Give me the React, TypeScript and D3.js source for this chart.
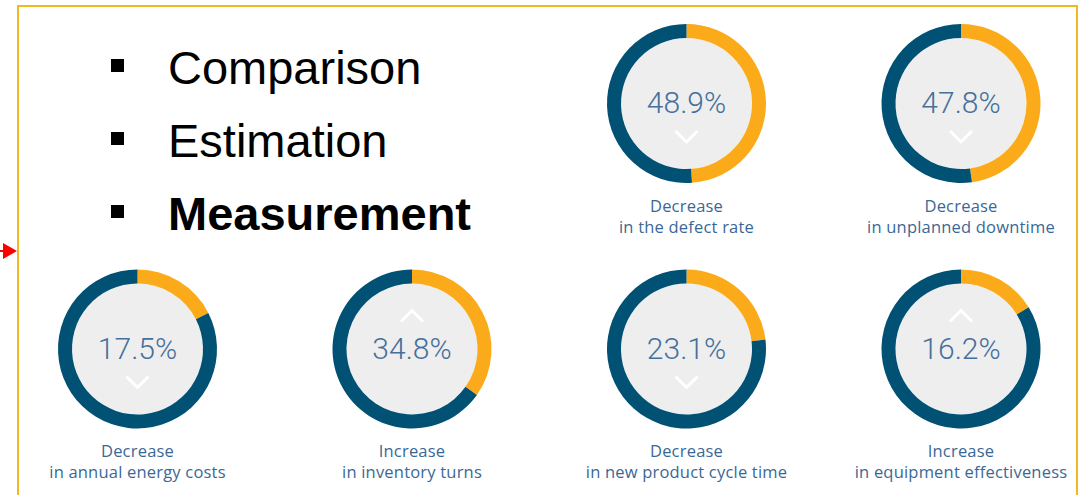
import React from "react";
import * as d3 from "d3";

const bullets = ["Comparison", "Estimation", "Measurement"];
const bulletBold = [false, false, true];

const values = [48.9, 47.8, 17.5, 34.8, 23.1, 16.2];
const directions = ["Decrease", "Decrease", "Decrease", "Increase", "Decrease", "Increase"];
const subtitles = [
  "in the defect rate",
  "in unplanned downtime",
  "in annual energy costs",
  "in inventory turns",
  "in new product cycle time",
  "in equipment effectiveness",
];
const gridCol = [2, 3, 0, 1, 2, 3];
const gridRow = [0, 0, 1, 1, 1, 1];

const W = 1084;
const H = 495;
const BLUE = "#005174";
const YELLOW = "#FBAB1A";
const INNER = "#EEEEEE";
const TEXT = "#3A6895";
const BORDER = "#F0B823";

const R = 79.5;
const THICK = 14;

export default function App() {
  const x = d3.scaleLinear().domain([0, 3]).range([137.5, 961]);
  const y = d3.scaleLinear().domain([0, 1]).range([103.5, 349]);
  const arc = d3.arc<any>().innerRadius(R - THICK).outerRadius(R);
  const pie = d3.pie<number>().sort(null).value((d) => d);
  const bulletY = d3.scaleLinear().domain([0, 2]).range([84, 230]);

  return (
    <svg
      width={W}
      height={H}
      style={{ position: "absolute", left: 0, top: 0, background: "#fff" }}
      fontFamily="Roboto, 'Liberation Sans', sans-serif"
    >
      <rect x={0} y={0} width={W} height={H} fill="#fff" />
      {/* frame */}
      <path d={`M18,${H + 2} L18,6 L1077,6 L1077,${H + 2}`} fill="none" stroke={BORDER} strokeWidth={2} />
      {/* red arrow */}
      <line x1={0} y1={251} x2={5} y2={251} stroke="#FF0000" strokeWidth={2} />
      <path d="M3,243 L17,251 L3,259 Z" fill="#FF0000" />

      {/* bullets */}
      {bullets.map((b, i) => (
        <g key={b}>
          <rect x={111} y={bulletY(i) - 25} width={13} height={13} fill="#000" />
          <text
            x={168}
            y={bulletY(i)}
            fontFamily="'Liberation Sans', Arial, sans-serif"
            fontSize={47}
            fontWeight={bulletBold[i] ? "bold" : "normal"}
            fill="#000"
          >
            {b}
          </text>
        </g>
      ))}

      {/* donuts */}
      {values.map((v, i) => {
        const cx = x(gridCol[i]);
        const cy = y(gridRow[i]);
        const arcs = pie([v, 100 - v]);
        const up = directions[i] === "Increase";
        const chy = up ? cy - 33 : cy + 33;
        const dy = up ? 5.5 : -5.5;
        return (
          <g key={i} transform={`translate(${cx},${cy})`}>
            <circle r={R - THICK} fill={INNER} />
            <path d={arc(arcs[0]) as string} fill={YELLOW} />
            <path d={arc(arcs[1]) as string} fill={BLUE} />
            <text
              x={0}
              y={9.5}
              textAnchor="middle"
              fontSize={30}
              fontWeight={300}
              fill="#46709C"
            >
              {v.toFixed(1)}%
            </text>
            <polyline
              points={`-11,${chy - cy + dy} 0,${chy - cy - dy} 11,${chy - cy + dy}`}
              fill="none"
              stroke="#fff"
              strokeWidth={3}
            />
            <g
              fontFamily="'Open Sans', sans-serif"
              fontSize={16.5}
              letterSpacing={0.2}
              fill={TEXT}
              textAnchor="middle"
            >
              <text x={0} y={108}>
                {directions[i]}
              </text>
              <text x={0} y={129}>
                {subtitles[i]}
              </text>
            </g>
          </g>
        );
      })}
    </svg>
  );
}
